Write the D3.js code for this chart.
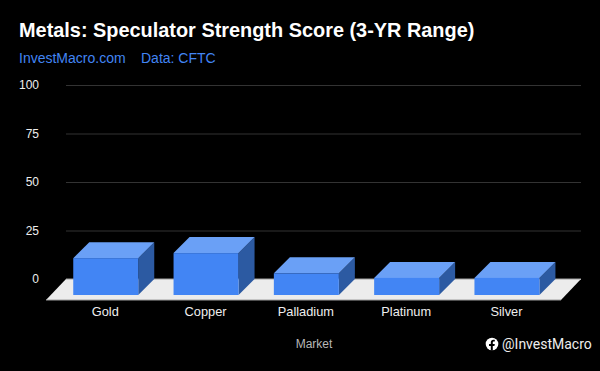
<!DOCTYPE html>
<html>
<head>
<meta charset="utf-8">
<script src="https://cdn.jsdelivr.net/npm/d3@7"></script>
<style>
  html, body { margin: 0; padding: 0; background: #000; }
  text { font-family: "Liberation Sans", Arial, sans-serif; }
</style>
</head>
<body>
<svg width="600" height="371"></svg>
<script>
const markets = ["Gold", "Copper", "Palladium", "Platinum", "Silver"];
const scores = [19, 21.6, 11.2, 8.8, 8.8];
const yTicks = [0, 25, 50, 75, 100];

const svg = d3.select("svg");
svg.append("rect").attr("width", 600).attr("height", 371).attr("fill", "#000");

// depth of the fake 3d box
const dx = 16, dy = 16;

const x = d3.scaleBand().domain(markets).range([55.6, 557.1]).paddingInner(0.352).paddingOuter(0.176);
// y scale sits on the back plane, front faces are shifted by dy
const y = d3.scaleLinear().domain([0, 100]).range([279, 85]);

svg.append("text").attr("x", 19).attr("y", 37)
  .attr("fill", "#fff").attr("font-size", 19.9).attr("font-weight", "bold")
  .text("Metals: Speculator Strength Score (3-YR Range)");

svg.append("text").attr("x", 19).attr("y", 63)
  .attr("fill", "#4285f4").attr("font-size", 14).text("InvestMacro.com");
svg.append("text").attr("x", 141).attr("y", 63)
  .attr("fill", "#4285f4").attr("font-size", 14).text("Data: CFTC");

// gridlines + y labels
const yAxis = svg.append("g")
  .attr("transform", "translate(66,0)")
  .call(d3.axisLeft(y).tickValues(yTicks).tickSize(-515).tickPadding(27));
yAxis.select(".domain").remove();
yAxis.selectAll("line").attr("stroke", d => d === 0 ? "#9e9e9e" : "#333");
yAxis.selectAll("text").attr("fill", "#eee").attr("font-size", 12)
  .style("font-family", '"Liberation Sans", Arial, sans-serif');

// floor
const base = y(0);
const floorPath = d3.path();
floorPath.moveTo(66, base);
floorPath.lineTo(581, base);
floorPath.lineTo(561, base + 21);
floorPath.lineTo(46, base + 21);
floorPath.closePath();
svg.append("path").attr("d", floorPath.toString()).attr("fill", "#ececec");
svg.append("line").attr("x1", 46).attr("x2", 561).attr("y1", base + 21).attr("y2", base + 21)
  .attr("stroke", "#9e9e9e");
svg.append("line").attr("x1", 66).attr("x2", 581).attr("y1", base).attr("y2", base)
  .attr("stroke", "#9e9e9e");

// bars
const bars = svg.selectAll("g.bar").data(markets).join("g").attr("class", "bar");

bars.append("path").attr("fill", "#2c5aa2").attr("d", (d, i) => {
  const r = x(d) + x.bandwidth(), t = y(scores[i]) + dy;
  return `M${r},${t}L${r + dx},${t - dy}L${r + dx},${base}L${r},${base + dy}Z`;
});
bars.append("path").attr("fill", "#6aa0f6").attr("d", (d, i) => {
  const l = x(d), r = l + x.bandwidth(), t = y(scores[i]) + dy;
  return `M${l},${t}L${l + dx},${t - dy}L${r + dx},${t - dy}L${r},${t}Z`;
});
bars.append("rect").attr("fill", "#4285f4")
  .attr("x", d => x(d))
  .attr("width", x.bandwidth())
  .attr("y", (d, i) => y(scores[i]) + dy)
  .attr("height", (d, i) => base - y(scores[i]));

// x labels
const xAxis = svg.append("g")
  .attr("transform", `translate(-0.5,${base + 21})`)
  .call(d3.axisBottom(x).tickSize(0).tickPadding(7));
xAxis.select(".domain").remove();
xAxis.selectAll("text").attr("fill", "#eee").attr("font-size", 12.8)
  .style("font-family", '"Liberation Sans", Arial, sans-serif');

svg.append("text").attr("x", 314).attr("y", 348).attr("text-anchor", "middle")
  .attr("fill", "#b7b7b7").attr("font-size", 12).text("Market");

// facebook badge
const fb = svg.append("g").attr("transform", "translate(492,344)");
fb.append("circle").attr("r", 6.3).attr("fill", "#fff");
fb.append("path").attr("fill", "#000")
  .attr("d", "M-1.2,6.6V2H-3V0H-1.2V-1.6C-1.2,-3.4 -0.1,-4.2 1.3,-4.2C2,-4.2 2.8,-4.1 2.8,-4.1V-2.4H1.9C1,-2.4 0.8,-1.9 0.8,-1.3V0H2.8L2.4,2H0.8V6.6Z");
svg.append("text").attr("x", 502).attr("y", 349)
  .attr("fill", "#eee").style("font-family", "Roboto").attr("font-size", 14).text("@InvestMacro");
</script>
</body>
</html>
